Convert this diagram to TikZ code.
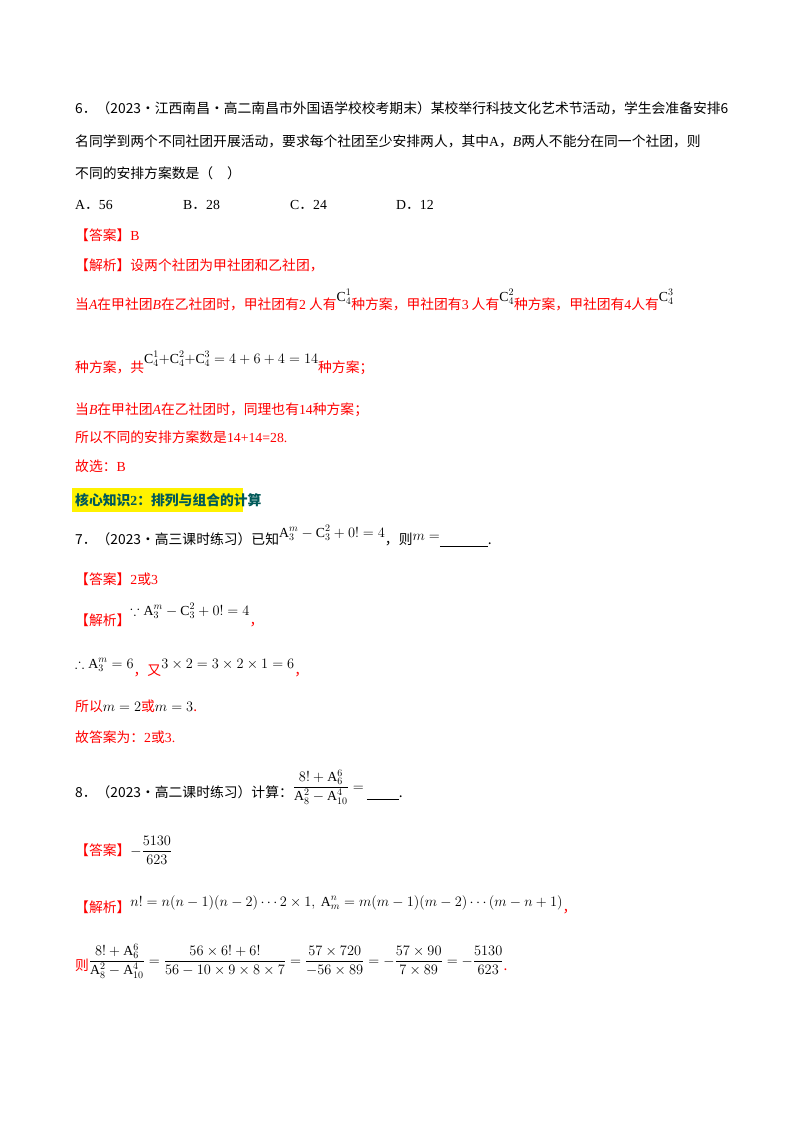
\documentclass[tikz,border=0pt]{standalone}
\usepackage{amsmath,amssymb}
\usepackage{fontspec}
\setmainfont{Liberation Serif}
\newfontfamily\cjk{Noto Sans CJK SC}
\begin{document}
\begin{tikzpicture}[x=1pt,y=-1pt,
  ln/.style={anchor=base west,inner sep=0pt,font=\fontsize{13.8}{16}\selectfont\cjk},
  rd/.style={ln,text=red}]
\useasboundingbox[fill=white] (0,0) rectangle (800,1132);
\node[ln] (l1) at (75,113) {6．（2023·江西南昌·高二南昌市外国语学校校考期末）某校举行科技文化艺术节活动，学生会准备安排6};
\node[ln] (l2) at (75,146) {名同学到两个不同社团开展活动，要求每个社团至少安排两人，其中{\rmfamily A}，{\rmfamily\itshape B}两人不能分在同一个社团，则};
\node[ln] (l3) at (75,178) {不同的安排方案数是（\quad）};
\node[ln] (oa) at (75,209) {{\rmfamily A}．{\rmfamily 56}};
\node[ln] (ob) at (183,209) {{\rmfamily B}．{\rmfamily 28}};
\node[ln] (oc) at (290,209) {{\rmfamily C}．{\rmfamily 24}};
\node[ln] (od) at (396,209) {{\rmfamily D}．{\rmfamily 12}};
\node[rd] (a1) at (75,240) {【答案】{\rmfamily B}};
\node[rd] (j1) at (75,270) {【解析】设两个社团为甲社团和乙社团，};
\node[rd] (j2) at (75,309) {当{\rmfamily\itshape A}在甲社团{\rmfamily\itshape B}在乙社团时，甲社团有{\rmfamily 2}\ 人有\raisebox{8pt}{\color{black}$\mathrm{C}_4^1$}种方案，甲社团有{\rmfamily 3}\ 人有\raisebox{8pt}{\color{black}$\mathrm{C}_4^2$}种方案，甲社团有{\rmfamily 4}人有\raisebox{8pt}{\color{black}$\mathrm{C}_4^3$}};
\node[rd] (j3) at (75,372) {种方案，共\raisebox{9pt}{\color{black}$\mathrm{C}_4^1{+}\mathrm{C}_4^2{+}\mathrm{C}_4^3=4+6+4=14$}种方案；};
\node[rd] (j4) at (75,414) {当{\rmfamily\itshape B}在甲社团{\rmfamily\itshape A}在乙社团时，同理也有{\rmfamily 14}种方案；};
\node[rd] (j5) at (75,442) {所以不同的安排方案数是{\rmfamily 14+14=28.}};
\node[rd] (j6) at (75,471) {故选：{\rmfamily B}};
\fill[yellow] (72,488) rectangle (243,512);
\node[ln,text=teal!70!black,font=\fontsize{13.8}{16}\selectfont\cjk\bfseries] (h) at (75,505) {核心知识{\rmfamily 2}：排列与组合的计算};
\node[ln] (q7) at (75,544) {7．（2023·高三课时练习）已知\raisebox{7pt}{$\mathrm{A}_3^m-\mathrm{C}_3^2+0!=4$}，则\raisebox{4pt}{$m=$}\underline{\hspace{48pt}}.};
\node[rd] (a7) at (75,584) {【答案】{\rmfamily 2}或{\rmfamily 3}};
\node[rd] (j7) at (75,625) {【解析】\raisebox{10pt}{\color{black}$\because\mathrm{A}_3^m-\mathrm{C}_3^2+0!=4$}，};
\node[rd] (j8) at (75,675) {\raisebox{7pt}{\color{black}$\therefore\mathrm{A}_3^m=6$}，又\raisebox{7pt}{\color{black}$3\times2=3\times2\times1=6$}，};
\node[rd] (j9) at (75,711) {所以{\color{black}$m=2$}或{\color{black}$m=3$}.};
\node[rd] (j10) at (75,742) {故答案为：{\rmfamily 2}或{\rmfamily 3.}};
\node[ln] (q8) at (75,797) {8．（2023·高二课时练习）计算：\raisebox{6pt}{$\dfrac{8!+\mathrm{A}_6^6}{\mathrm{A}_8^2-\mathrm{A}_{10}^4}=$}\ \underline{\hspace{32pt}}.};
\node[rd] (a8) at (75,855) {【答案】{\color{black}$-\dfrac{5130}{623}$}};
\node[rd] (j11) at (75,912) {【解析】\raisebox{6pt}{\color{black}$n!=n(n-1)(n-2)\cdots2\times1,\ \mathrm{A}_m^n=m(m-1)(m-2)\cdots(m-n+1)$}，};
\node[rd] (j12) at (75,970) {则\raisebox{5pt}{\color{black}$\dfrac{8!+\mathrm{A}_6^6}{\mathrm{A}_8^2-\mathrm{A}_{10}^4}=\dfrac{56\times6!+6!}{56-10\times9\times8\times7}=\dfrac{57\times720}{-56\times89}=-\dfrac{57\times90}{7\times89}=-\dfrac{5130}{623}$}.};
\end{tikzpicture}
\end{document}
